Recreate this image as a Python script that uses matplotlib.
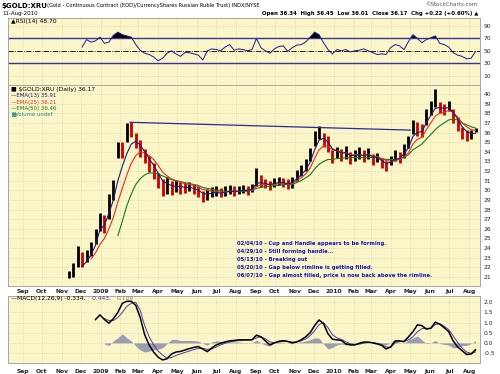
import numpy as np
import pandas as pd
import matplotlib
matplotlib.use("Agg")
import matplotlib.pyplot as plt

W, H = 500, 374

# weekly samples (Wednesdays)
weeks = pd.date_range("2008-11-12", "2010-08-11", freq="7D")

close = [21.2, 22.0, 23.8, 22.4, 23.3, 24.2, 25.6, 26.8, 26.4, 28.8,
         30.4, 34.2, 34.0, 36.2, 36.0, 35.0, 34.2, 33.4, 32.6, 32.2,
         30.8, 30.0, 30.6, 30.2, 30.5, 30.3, 30.2, 30.4, 30.1, 29.8,
         29.2, 29.6, 29.8, 29.9, 29.6, 29.9, 30.1, 29.8, 30.0, 30.1,
         29.9, 30.3, 31.4, 30.9, 30.6, 30.4, 30.8, 31.0, 30.8, 30.6,
         30.9, 31.6, 32.0, 32.6, 33.6, 35.4, 36.2, 35.3, 34.4, 33.4,
         34.0, 33.6, 33.9, 33.3, 33.6, 33.8, 33.5, 33.8, 33.2, 33.4,
         32.8, 32.4, 33.0, 33.6, 33.4, 34.2, 35.0, 36.6, 36.4, 36.1,
         37.8, 38.6, 39.2, 38.6, 38.4, 38.8, 37.6, 36.8, 35.8, 35.5,
         35.8, 36.17]
high = [21.6, 22.5, 24.2, 23.6, 23.8, 24.6, 26.0, 27.6, 27.4, 29.6,
        31.1, 35.0, 35.0, 37.0, 37.1, 35.9, 35.2, 34.3, 33.6, 32.8,
        31.8, 31.2, 31.4, 31.0, 31.1, 30.9, 30.8, 30.9, 30.7, 30.4,
        29.9, 30.1, 30.3, 30.4, 30.2, 30.4, 30.5, 30.4, 30.4, 30.6,
        30.4, 30.7, 32.3, 31.6, 31.2, 31.0, 31.3, 31.4, 31.3, 31.2,
        31.4, 32.1, 32.6, 33.3, 34.4, 36.2, 36.7, 36.0, 35.6, 34.2,
        34.5, 34.3, 34.6, 34.0, 34.2, 34.5, 34.2, 34.4, 33.8, 33.9,
        33.4, 33.0, 33.6, 34.2, 34.0, 34.8, 35.6, 37.3, 37.1, 36.9,
        38.4, 39.3, 40.5, 39.2, 39.0, 39.3, 38.4, 37.6, 36.6, 36.3,
        36.3, 36.45]
low = [20.9, 21.0, 22.0, 22.0, 22.6, 23.2, 24.4, 25.8, 25.6, 27.0,
       29.0, 33.4, 33.4, 35.0, 35.5, 34.4, 33.5, 32.8, 31.9, 31.2,
       30.2, 29.4, 29.6, 29.5, 29.8, 29.6, 29.7, 29.9, 29.6, 29.3,
       28.8, 29.0, 29.3, 29.4, 29.3, 29.4, 29.6, 29.4, 29.6, 29.7,
       29.5, 29.8, 30.4, 30.3, 30.2, 30.0, 30.3, 30.5, 30.3, 30.1,
       30.2, 31.0, 31.5, 32.0, 33.0, 34.6, 35.3, 34.5, 34.0, 32.8,
       33.4, 33.0, 33.2, 32.7, 33.0, 33.2, 32.9, 33.2, 32.6, 32.9,
       32.3, 32.0, 32.6, 33.0, 32.8, 33.4, 34.4, 35.8, 35.6, 35.5,
       36.8, 37.8, 38.6, 38.0, 37.8, 38.2, 37.0, 36.2, 35.3, 35.1,
       35.3, 36.01]

ema13_vals = [22.1, 22.6, 23.3, 24.3, 25.9, 26.4, 27.6,
              29.0, 31.0, 32.5, 33.8, 34.8, 35.1, 34.7, 34.0, 33.3, 32.6,
              31.8, 31.0, 30.7, 30.5, 30.4, 30.4, 30.3, 30.3, 30.2, 30.0,
              29.7, 29.6, 29.7, 29.8, 29.7, 29.8, 29.9, 29.9, 29.9, 30.0,
              30.0, 30.1, 30.7, 30.8, 30.7, 30.6, 30.7, 30.8, 30.8, 30.7,
              30.8, 31.2, 31.6, 32.1, 32.9, 34.2, 35.2, 35.4, 35.0, 34.3,
              34.1, 33.9, 33.9, 33.6, 33.6, 33.7, 33.6, 33.7, 33.5, 33.4,
              33.1, 32.8, 32.9, 33.2, 33.3, 33.8, 34.4, 35.6, 36.0, 36.1,
              37.0, 37.8, 38.5, 38.6, 38.5, 38.6, 38.1, 37.4, 36.6, 36.1,
              35.9, 35.91]
ema25_vals = [22.9, 23.5, 24.4, 25.0, 26.0,
              27.2, 28.8, 30.2, 31.6, 32.8, 33.6, 34.0, 33.9, 33.6, 33.2,
              32.6, 31.9, 31.5, 31.2, 31.0, 30.8, 30.7, 30.6, 30.5, 30.3,
              30.1, 30.0, 29.9, 29.9, 29.8, 29.8, 29.9, 29.9, 29.9, 30.0,
              30.0, 30.0, 30.4, 30.6, 30.6, 30.6, 30.6, 30.7, 30.7, 30.7,
              30.7, 31.0, 31.3, 31.7, 32.3, 33.3, 34.2, 34.6, 34.6, 34.2,
              34.1, 33.9, 33.9, 33.7, 33.7, 33.7, 33.6, 33.7, 33.6, 33.5,
              33.3, 33.1, 33.0, 33.1, 33.2, 33.5, 33.9, 34.8, 35.3, 35.5,
              36.3, 37.0, 37.7, 38.0, 38.1, 38.3, 38.1, 37.6, 37.0, 36.6,
              36.3, 36.21]
ema50_vals = [25.3, 26.8, 28.4, 29.6, 30.6, 31.2, 31.6, 31.8, 31.8,
              31.7, 31.5, 31.3, 31.1, 31.0, 30.9, 30.8, 30.7, 30.6, 30.5,
              30.3, 30.2, 30.1, 30.0, 30.0, 29.9, 29.9, 29.9, 29.9, 29.9,
              29.9, 30.0, 30.2, 30.3, 30.4, 30.4, 30.5, 30.5, 30.6, 30.6,
              30.6, 30.8, 31.0, 31.3, 31.6, 32.2, 32.7, 33.0, 33.2, 33.2,
              33.3, 33.3, 33.4, 33.4, 33.4, 33.4, 33.4, 33.4, 33.4, 33.4,
              33.3, 33.2, 33.2, 33.2, 33.3, 33.4, 33.7, 34.2, 34.5, 34.8,
              35.3, 35.8, 36.3, 36.7, 37.0, 37.3, 37.4, 37.3, 37.0, 36.8,
              36.6, 36.46]

rsi_vals = [56, 68, 64, 66, 72, 62, 64,
            75, 80, 76, 74, 72, 60, 51, 46, 44, 40,
            34, 38, 46, 50, 45, 41, 47, 47, 45, 43,
            35, 50, 53, 52, 50, 56, 60, 51, 53, 52,
            50, 52, 70, 55, 50, 46, 53, 57, 58, 49,
            55, 59, 60, 64, 72, 80, 76, 63, 52, 45,
            52, 50, 52, 48, 50, 51, 53, 50, 47, 44,
            45, 44, 55, 60, 58, 52, 65, 76, 70, 63,
            68, 71, 74, 62, 60, 56, 47, 43, 41, 37,
            38, 48.7]

macd_vals = [1.15, 1.38, 1.15, 0.97,
             1.2, 1.5, 1.95, 2.05, 2.05, 1.85, 1.25, 0.4, -0.1, -0.45,
             -0.7, -0.84, -0.78, -0.55, -0.45, -0.42, -0.35, -0.28, -0.22, -0.18,
             -0.3, -0.43, -0.25, -0.1, -0.02, 0.05, 0.1, 0.12, 0.15, 0.15,
             0.15, 0.15, 0.38, 0.3, 0.1, -0.1, 0.0, 0.08, 0.11, 0.07,
             0.0, 0.05, 0.15, 0.3, 0.5, 0.85, 1.13, 0.95, 0.45, 0.18,
             0.15, 0.12, -0.05, -0.1, -0.1, -0.02, 0.04, 0.04, 0.0, -0.05,
             -0.12, -0.3, -0.2, 0.1, 0.1, 0.06, 0.3, 0.55, 0.89, 0.85,
             0.68, 0.72, 1.02, 0.92, 0.75, 0.55, 0.1, -0.2, -0.38, -0.57,
             -0.55, -0.334]
signal_vals = [1.2, 1.1,
               1.1, 1.25, 1.5, 1.8, 1.95, 2.0, 1.6, 0.85, 0.3, -0.1,
               -0.4, -0.6, -0.75, -0.72, -0.62, -0.54, -0.47, -0.4, -0.33, -0.27,
               -0.27, -0.32, -0.3, -0.2, -0.1, -0.02, 0.05, 0.08, 0.11, 0.13,
               0.14, 0.15, 0.25, 0.3, 0.2, 0.05, 0.0, 0.04, 0.08, 0.08,
               0.04, 0.04, 0.1, 0.2, 0.35, 0.6, 0.9, 1.0, 0.75, 0.4,
               0.25, 0.17, 0.05, -0.05, -0.08, -0.06, -0.01, 0.03, 0.02, -0.02,
               -0.07, -0.2, -0.22, 0.0, 0.08, 0.08, 0.15, 0.3, 0.55, 0.7,
               0.72, 0.72, 0.9, 0.95, 0.82, 0.65, 0.35, 0.02, -0.25, -0.45,
               -0.52, -0.443]

rim_dates = pd.to_datetime(["2009-02-16", "2010-05-01"])
rim_prices = [37.06, 36.25]

notes = ["02/04/10 - Cup and Handle appears to be forming.",
         "04/29/10 - Still forming handle...",
         "05/13/10 - Breaking out",
         "05/20/10 - Gap below rimline is getting filled.",
         "06/07/10 - Gap almost filled, price is now back above the rimline."]


def pad(vals):
    return np.array([np.nan] * (len(weeks) - len(vals)) + list(vals), dtype=float)


ema13, ema25, ema50 = pad(ema13_vals), pad(ema25_vals), pad(ema50_vals)
rsi = pad(rsi_vals)
macd, signal = pad(macd_vals), pad(signal_vals)
hist = macd - signal
close = np.array(close)
bar_colors = ["#cc0000" if i > 0 and close[i] < close[i - 1] else "black"
              for i in range(len(close))]

BG = "#FAF6CA"
GRID = "#DCD6A0"
months = pd.date_range("2008-09-01", "2010-08-01", freq="MS")
month_labels = [str(d.year) if d.month == 1 else d.strftime("%b") for d in months]
xlim = (pd.Timestamp("2008-08-09"), pd.Timestamp("2010-08-18"))

fig = plt.figure(figsize=(5, 3.74), dpi=100)


def panel(top, bottom):
    ax = fig.add_axes([8 / W, 1 - bottom / H, 472 / W, (bottom - top) / H])
    ax.set_facecolor(BG)
    ax.set_xlim(*xlim)
    ax.set_xticks(months)
    ax.yaxis.tick_right()
    ax.tick_params(length=0, labelsize=4.3, colors="#222222", pad=2.5)
    ax.grid(True, color=GRID, linestyle=":", linewidth=0.6)
    ax.set_axisbelow(True)
    for s in ax.spines.values():
        s.set_color("#9a9a9a")
        s.set_linewidth(0.6)
    return ax


def ftext(x, y, s, **kw):
    kw.setdefault("fontsize", 4.3)
    kw.setdefault("va", "center")
    fig.text(x / W, 1 - y / H, s, **kw)


# RSI panel
ax_rsi = panel(18, 85)
ax_rsi.set_ylim(-5.2, 102.9)
ax_rsi.set_yticks([10, 30, 50, 70, 90])
ax_rsi.set_xticklabels([])
ax_rsi.axhline(70, color="#3b3394", lw=1.0)
ax_rsi.axhline(30, color="#3b3394", lw=1.0)
ax_rsi.axhline(50, color="black", lw=0.6, linestyle="-.")
ax_rsi.fill_between(weeks, 70, rsi, where=rsi > 70, interpolate=True, color="black", lw=0)
ax_rsi.plot(weeks, rsi, color="#1c1c8c", lw=0.7)

# price panel
ax = panel(85, 286)
ax.set_ylim(20.07, 40.93)
ax.set_yticks(range(21, 41))
ax.set_xticklabels(month_labels, fontweight="bold")
ax.vlines(weeks, low, high, colors=bar_colors, lw=2.0)
ax.plot(weeks, ema50, color="#1a7a1a", lw=0.8)
ax.plot(weeks, ema25, color="#e0301e", lw=0.8)
ax.plot(weeks, ema13, color="#1c1c7a", lw=0.8)
ax.plot(rim_dates, rim_prices, color="#2a2a9a", lw=0.9)

# MACD panel
ax_m = panel(296, 363)
ax_m.set_ylim(-0.99, 2.31)
ax_m.set_yticks([-0.5, 0.0, 0.5, 1.0, 1.5, 2.0])
ax_m.set_yticklabels(["-0.5", "0.0", "0.5", "1.0", "1.5", "2.0"])
ax_m.set_xticklabels(month_labels, fontweight="bold")
ax_m.tick_params(axis="x", pad=4)
ax_m.fill_between(weeks, 0, hist, color="#9c9cae", lw=0)
ax_m.plot(weeks, signal, color="#4b3aa8", lw=0.7)
ax_m.plot(weeks, macd, color="black", lw=1.1)

# header texts
ftext(2, 6, "$GOLD:XRU", fontsize=5.0, fontweight="bold")
ftext(47, 6, "(Gold - Continuous Contract (EOD)/CurrencyShares Russian Ruble Trust) INDX/NYSE",
      fontsize=3.7)
ftext(2, 14, "11-Aug-2010", fontsize=4.0)
ftext(478, 5, "\u00a9StockCharts.com", fontsize=4.0, ha="right", color="#555555")
ftext(478, 14, "Open 36.34  High 36.45  Low 36.01  Close 36.17  Chg +0.22 (+0.60%) \u25b2",
      fontsize=3.9, ha="right", fontweight="bold")

# legends
ftext(11, 22, "\u25b2RSI(14) 48.70", fontsize=4.3)
ftext(11, 90, "\u25a0 $GOLD:XRU (Daily) 36.17", fontsize=4.3)
ftext(11, 96, "\u2014EMA(13) 35.91", fontsize=3.9, color="#1c1c7a")
ftext(11, 102.3, "\u2014EMA(25) 36.21", fontsize=3.9, color="#e0301e")
ftext(11, 108.3, "\u2014EMA(50) 36.46", fontsize=3.9, color="#1a7a1a")
ftext(11, 114.3, "\u2593Volume undef", fontsize=3.9, color="#2a8a8a")
ftext(11, 298.5, "\u2014MACD(12,26,9) -0.334,", fontsize=4.3)
ftext(91, 298.5, "-0.443,", fontsize=4.3, color="#4b3aa8")
ftext(117, 298.5, "0.109", fontsize=4.3, color="#888888")

# annotations
for k, note in enumerate(notes):
    ftext(237, 243 + k * 8, note, fontsize=3.8, fontweight="bold", color="#1414b4")

fig.savefig("out.png", dpi=100)
